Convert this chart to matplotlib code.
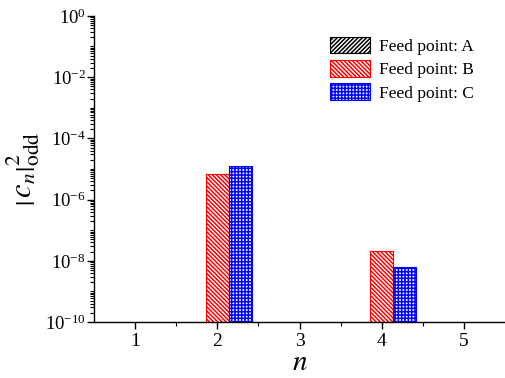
import numpy as np
import matplotlib
matplotlib.use("Agg")
import matplotlib.pyplot as plt
from matplotlib.ticker import LogLocator, LogFormatterSciNotation, FixedLocator, NullFormatter
from matplotlib.patches import Patch

plt.rcParams['font.family'] = ['Liberation Serif', 'DejaVu Serif']
plt.rcParams['mathtext.fontset'] = 'stix'
plt.rcParams['hatch.linewidth'] = 1.1

n = np.array([1, 2, 3, 4, 5])
feed_a = np.array([0.0, 0.0, 0.0, 0.0, 0.0])
feed_b = np.array([0.0, 6.9e-6, 0.0, 2.1e-8, 0.0])
feed_c = np.array([0.0, 1.25e-5, 0.0, 6.2e-9, 0.0])
labels = ['Feed point: A', 'Feed point: B', 'Feed point: C']

fig = plt.figure(figsize=(5.06, 3.78), dpi=100)
ax = fig.add_axes([0.186, 0.148, 0.812, 0.81])
ax.set_yscale('log', nonpositive='clip')

w = 0.28
styles = [('black', '/' * 8), ('red', '\\' * 8), ('blue', '+' * 5)]
for offset, vals, (col, hatch) in zip([-w, 0.0, w], [feed_a, feed_b, feed_c], styles):
    for xi, v in zip(n, vals):
        if v > 0:
            ax.bar(xi + offset, v - 1e-10, bottom=1e-10, width=w, color='white',
                   edgecolor=col, hatch=hatch, linewidth=0.8, align='center')

ax.set_xlim(0.5, 5.5)
ax.set_ylim(1e-10, 1)
ax.set_xticks(n)
ax.xaxis.set_minor_locator(FixedLocator([1.5, 2.5, 3.5, 4.5]))
ax.yaxis.set_major_locator(FixedLocator([10.0**k for k in range(-10, 1, 2)]))
ax.yaxis.set_major_formatter(LogFormatterSciNotation())
ax.yaxis.set_minor_locator(LogLocator(base=10, subs=np.arange(1, 10), numticks=100))
ax.yaxis.set_minor_formatter(NullFormatter())

for s in ['top', 'right']:
    ax.spines[s].set_visible(False)
for s in ['left', 'bottom']:
    ax.spines[s].set_linewidth(1.0)

ax.tick_params(axis='both', which='major', direction='out', length=5, width=1.0)
ax.tick_params(axis='both', which='minor', direction='out', length=3, width=0.8)
ax.tick_params(axis='y', which='major', labelsize=13.5, pad=1)
ax.tick_params(axis='x', which='major', labelsize=14, pad=3)

ax.set_xlabel(r'$n$', fontsize=21, labelpad=0)
ax.set_ylabel(r'$\left|\,c_n\right|^2_{\mathrm{odd}}$', fontsize=22, labelpad=2)

handles = [Patch(facecolor='white', edgecolor=c, hatch=h, linewidth=0.8) for c, h in styles]
ax.legend(handles, labels, loc='upper right', bbox_to_anchor=(0.94, 0.955), frameon=False,
          fontsize=12.5, handlelength=2.3, handleheight=1.1, handletextpad=0.5,
          labelspacing=0.3, borderaxespad=0)

fig.savefig('out.png', dpi=100)
